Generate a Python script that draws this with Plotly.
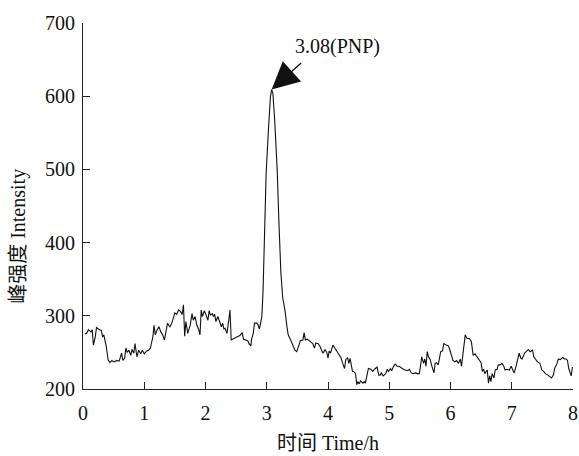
import plotly.graph_objects as go

time_h = [0.03, 0.06, 0.09, 0.13, 0.15, 0.17, 0.20, 0.22, 0.27, 0.30, 0.32, 0.34, 0.38, 0.41, 0.44, 0.47, 0.51, 0.55, 0.59, 0.63,
          0.65, 0.68, 0.70, 0.72, 0.75, 0.78, 0.80, 0.83, 0.85, 0.88, 0.91, 0.94, 0.97, 1.00, 1.04, 1.07, 1.10, 1.14, 1.16, 1.18,
          1.21, 1.24, 1.27, 1.30, 1.33, 1.36, 1.38, 1.40, 1.42, 1.45, 1.47, 1.50, 1.53, 1.56, 1.59, 1.62, 1.64, 1.66, 1.68, 1.71,
          1.75, 1.78, 1.80, 1.83, 1.86, 1.89, 1.91, 1.93, 1.95, 1.98, 2.00, 2.02, 2.04, 2.06, 2.08, 2.11, 2.13, 2.15, 2.17, 2.20,
          2.23, 2.26, 2.28, 2.30, 2.32, 2.35, 2.38, 2.40, 2.42, 2.45, 2.51, 2.56, 2.60, 2.62, 2.66, 2.69, 2.71, 2.74, 2.75, 2.78,
          2.80, 2.84, 2.86, 2.88, 2.90, 2.92, 2.94, 2.96, 2.99, 3.03, 3.06, 3.08, 3.10, 3.13, 3.17, 3.20, 3.23, 3.26, 3.30, 3.33,
          3.35, 3.39, 3.42, 3.46, 3.49, 3.52, 3.55, 3.59, 3.61, 3.63, 3.66, 3.71, 3.75, 3.78, 3.80, 3.84, 3.87, 3.90, 3.92, 3.95,
          3.98, 4.00, 4.02, 4.04, 4.08, 4.11, 4.14, 4.17, 4.21, 4.24, 4.27, 4.29, 4.32, 4.34, 4.36, 4.38, 4.40, 4.42, 4.45, 4.47,
          4.49, 4.51, 4.53, 4.57, 4.59, 4.61, 4.64, 4.66, 4.70, 4.73, 4.76, 4.80, 4.83, 4.85, 4.87, 4.90, 4.94, 4.97, 4.99, 5.02,
          5.04, 5.07, 5.10, 5.13, 5.16, 5.20, 5.23, 5.26, 5.30, 5.33, 5.36, 5.39, 5.43, 5.46, 5.49, 5.51, 5.53, 5.56, 5.58, 5.60,
          5.62, 5.64, 5.67, 5.69, 5.71, 5.73, 5.75, 5.77, 5.80, 5.82, 5.84, 5.87, 5.89, 5.93, 5.96, 5.98, 6.00, 6.02, 6.04, 6.07,
          6.10, 6.13, 6.16, 6.18, 6.20, 6.22, 6.24, 6.27, 6.31, 6.34, 6.37, 6.40, 6.43, 6.47, 6.50, 6.52, 6.54, 6.56, 6.60, 6.62,
          6.64, 6.66, 6.68, 6.71, 6.73, 6.76, 6.78, 6.81, 6.84, 6.87, 6.89, 6.92, 6.96, 6.99, 7.02, 7.04, 7.07, 7.10, 7.12, 7.15,
          7.17, 7.21, 7.24, 7.27, 7.30, 7.34, 7.36, 7.39, 7.42, 7.46, 7.49, 7.52, 7.55, 7.59, 7.62, 7.65, 7.68, 7.70, 7.74, 7.76,
          7.79, 7.83, 7.86, 7.89, 7.91, 7.93, 7.97, 7.99]

intensity = [275, 276, 281, 278, 281, 260, 271, 284, 281, 280, 271, 274, 258, 240, 236, 239, 237, 239, 238, 249,
             239, 242, 256, 250, 253, 246, 254, 249, 262, 244, 253, 248, 253, 248, 252, 253, 256, 271, 287, 274,
             281, 285, 278, 274, 267, 281, 290, 287, 285, 290, 297, 304, 302, 308, 306, 302, 315, 272, 292, 276,
             287, 303, 294, 299, 287, 281, 274, 308, 299, 307, 303, 297, 294, 307, 301, 303, 299, 302, 292, 299,
             292, 285, 290, 282, 283, 276, 294, 308, 267, 268, 271, 273, 277, 268, 267, 266, 262, 259, 267, 276,
             290, 290, 287, 282, 290, 299, 335, 417, 495, 558, 599, 609, 604, 567, 500, 425, 360, 325, 306, 285,
             274, 267, 260, 253, 251, 258, 266, 267, 277, 267, 268, 265, 262, 256, 263, 262, 258, 252, 249, 254,
             250, 242, 252, 249, 260, 256, 252, 249, 243, 235, 228, 240, 243, 235, 242, 233, 224, 224, 221, 206,
             210, 207, 211, 208, 210, 208, 219, 228, 227, 224, 227, 230, 219, 219, 222, 218, 221, 227, 224, 228,
             225, 231, 234, 231, 231, 228, 227, 226, 225, 227, 222, 221, 222, 221, 221, 231, 244, 235, 241, 231,
             251, 244, 240, 233, 228, 222, 235, 236, 233, 244, 251, 252, 262, 260, 259, 256, 251, 245, 239, 237,
             239, 235, 241, 231, 247, 267, 274, 269, 269, 265, 246, 248, 244, 240, 236, 224, 227, 221, 226, 208,
             218, 210, 221, 215, 226, 227, 233, 233, 235, 231, 226, 227, 226, 231, 226, 222, 231, 241, 249, 242,
             241, 249, 252, 254, 251, 253, 244, 241, 237, 235, 226, 224, 221, 219, 217, 215, 219, 228, 235, 241,
             240, 243, 241, 241, 239, 228, 218, 230]

x_ticks = [0, 1, 2, 3, 4, 5, 6, 7, 8]
y_ticks = [200, 300, 400, 500, 600, 700]
peak_time = 3.08
peak_value = 609
peak_label = "3.08(PNP)"
x_title = "时间 Time/h"
y_title = "峰强度 Intensity"

FONT = "Liberation Serif, Times New Roman, Noto Sans CJK SC, serif"

fig = go.Figure()
fig.add_trace(go.Scatter(x=time_h, y=intensity, mode="lines",
                         line=dict(color="#111111", width=1.1), showlegend=False))

axis_common = dict(showline=True, linecolor="#222222", linewidth=1.2, ticks="inside",
                   ticklen=7, tickwidth=1.2, tickcolor="#222222", showgrid=False, zeroline=False,
                   tickfont=dict(family=FONT, size=20, color="#111111"), mirror=False,
                   automargin=False)

fig.update_layout(
    width=579, height=456,
    margin=dict(l=83, r=6, t=23, b=67),
    paper_bgcolor="white", plot_bgcolor="white",
    font=dict(family=FONT, color="#111111"),
    xaxis=dict(range=[0, 8], tickvals=x_ticks, ticklabelstandoff=6, **axis_common,
               title=dict(text=x_title, font=dict(family=FONT, size=20), standoff=12)),
    yaxis=dict(range=[200, 700], tickvals=y_ticks, ticklabelstandoff=3, **axis_common),
)

fig.add_annotation(xref="paper", yref="paper", x=-0.133, y=0.418, text=y_title,
                   textangle=-90, showarrow=False, xanchor="center", yanchor="middle",
                   font=dict(family=FONT, size=20, color="#111111"))

fig.add_annotation(x=peak_time, y=peak_value, xref="x", yref="y", text="",
                   showarrow=True, arrowhead=2, arrowsize=4.2, arrowwidth=1.3,
                   arrowcolor="#111111", ax=31, ay=-28, standoff=0)
fig.add_annotation(x=peak_time, y=peak_value, xref="x", yref="y", text=peak_label,
                   showarrow=False, xanchor="left", yanchor="bottom", xshift=21, yshift=30,
                   font=dict(family=FONT, size=20, color="#111111"))

fig.write_html("out.html", config={"displayModeBar": False},
               post_script="document.body.style.margin='0';document.body.style.overflow='hidden';")
